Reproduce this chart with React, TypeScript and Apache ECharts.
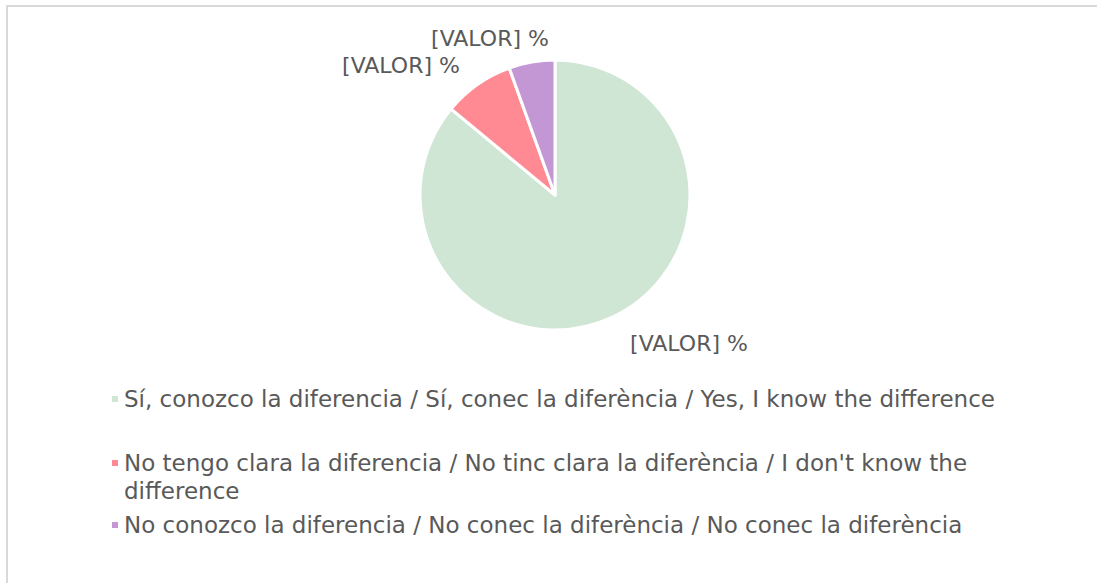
import React, { useEffect, useRef } from "react";
import * as echarts from "echarts";

const categories = [
  "Sí, conozco la diferencia / Sí, conec la diferència / Yes, I know the difference",
  "No tengo clara la diferencia / No tinc clara la diferència / I don't know the difference",
  "No conozco la diferencia / No conec la diferència / No conec la diferència",
];
const values = [86, 8.5, 5.5];
const colors = ["#cfe6d4", "#ff8a93", "#c397d4"];
const labelText = "[VALOR] %";

const FONT = "DejaVu Sans";
const TEXT_COLOR = "#595959";

export default function App() {
  const ref = useRef<HTMLDivElement>(null);
  useEffect(() => {
    if (!ref.current) return;
    const chart = echarts.init(ref.current, undefined, { renderer: "svg" });
    const labelPos = [
      [689, 343],
      [401, 65],
      [490, 38],
    ];
    const legendTops = [385, 449, 511];
    const legendWidths = [960, 905, 960];
    chart.setOption({
      animation: false,
      backgroundColor: "#ffffff",
      graphic: [
        {
          type: "rect",
          shape: { x: 7, y: 6, width: 1300, height: 800 },
          style: { fill: "none", stroke: "#d9d9d9", lineWidth: 2 },
          silent: true,
        },
      ],
      legend: categories.map((c, i) => ({
        data: [c],
        orient: "vertical",
        left: 110,
        top: legendTops[i],
        padding: 0,
        itemWidth: 8,
        itemHeight: i === 1 ? 36 : 8,
        itemGap: 0,
        icon: i === 1 ? "path://M0,0H8V8H0Z M0,35.95H0.05V36H0Z" : "rect",
        selectedMode: false,
        textStyle: {
          color: TEXT_COLOR,
          fontFamily: FONT,
          fontSize: 23,
          lineHeight: 28,
          width: legendWidths[i],
          overflow: "break",
        },
      })),
      series: [
        {
          type: "pie",
          center: [555, 195],
          radius: 135,
          startAngle: 90,
          clockwise: true,
          data: categories.map((c, i) => ({
            name: c,
            value: values[i],
            itemStyle: { color: colors[i] },
          })),
          itemStyle: { borderColor: "#ffffff", borderWidth: 3 },
          label: {
            show: true,
            position: "outside",
            formatter: () => labelText,
            color: TEXT_COLOR,
            fontFamily: FONT,
            fontSize: 22,
          },
          labelLine: { show: false },
          labelLayout: (p: any) => ({
            x: labelPos[p.dataIndex][0],
            y: labelPos[p.dataIndex][1],
            align: "center",
            verticalAlign: "middle",
          }),
          emphasis: { disabled: true },
        },
      ],
    });
    return () => chart.dispose();
  }, []);
  return (
    <div
      ref={ref}
      style={{ position: "fixed", left: 0, top: 0, width: 1097, height: 583 }}
    />
  );
}
